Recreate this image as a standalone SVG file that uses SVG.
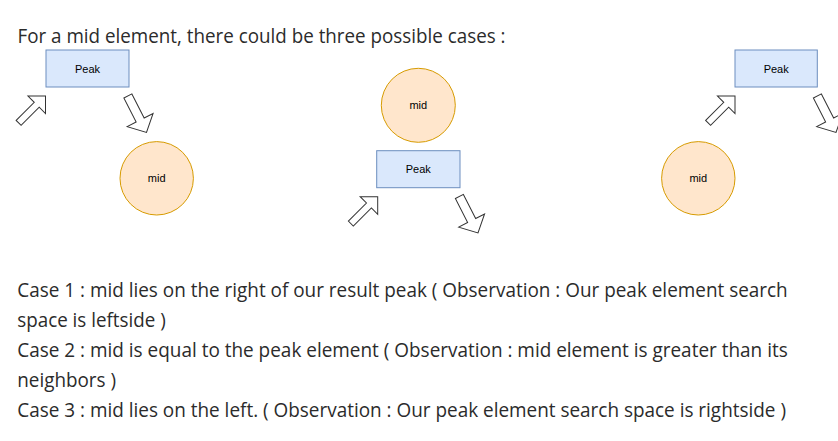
<svg xmlns="http://www.w3.org/2000/svg" xmlns:xlink="http://www.w3.org/1999/xlink" width="838" height="441" viewBox="0 0 838 441">
<style>
.bg{fill:#ffffff}
.peak{fill:#dae8fc;stroke:#6c8ebf;stroke-width:1}
.mid{fill:#ffe6cc;stroke:#d79b00;stroke-width:1}
.lbl{font-family:"Liberation Sans",Arial,sans-serif;font-size:11px;fill:#000000;text-anchor:middle;dominant-baseline:central}
.arr{fill:#ffffff;stroke:#333333;stroke-width:1;stroke-linejoin:miter}
.txt{font-family:"Open Sans","Noto Sans",sans-serif;font-size:19.5px;fill:#2b2b2b}
</style>
<defs>
<polygon id="upArrow" class="arr" points="-38,-3.5 -12.4,-3.5 -12.4,-12.4 0,0 -12.4,12.4 -12.4,3.5 -38,3.5"/>
<polygon id="downArrow" class="arr" points="-41,-4.5 -14,-4.5 -14,-14.5 0,0 -14,14.5 -14,4.5 -41,4.5"/>
</defs>
<rect class="bg" x="0" y="0" width="838" height="441"/>

<g id="title">
<text class="txt" x="17.5" y="42.5" textLength="488" lengthAdjust="spacingAndGlyphs">For a mid element, there could be three possible cases :</text>
</g>

<g id="case1-peak"><rect class="peak" x="46" y="50" width="83" height="37"/><text class="lbl" x="87.5" y="68.5">Peak</text></g>
<g id="case1-mid"><circle class="mid" cx="156.7" cy="178.3" r="36.7"/><text class="lbl" x="156.7" y="178.3">mid</text></g>

<g id="case2-mid"><circle class="mid" cx="418.3" cy="105.3" r="37"/><text class="lbl" x="418.3" y="105.3">mid</text></g>
<g id="case2-peak"><rect class="peak" x="376.7" y="150.7" width="83.3" height="37"/><text class="lbl" x="418.3" y="169.2">Peak</text></g>

<g id="case3-peak"><rect class="peak" x="735" y="50" width="82.3" height="37"/><text class="lbl" x="776.2" y="68.5">Peak</text></g>
<g id="case3-mid"><circle class="mid" cx="698.3" cy="178.3" r="36.7"/><text class="lbl" x="698.3" y="178.3">mid</text></g>

<g id="connectors">
<use xlink:href="#upArrow" href="#upArrow" transform="translate(45.5,96) rotate(-45)"/>
<use xlink:href="#downArrow" href="#downArrow" transform="translate(146.5,132.5) rotate(63)"/>
<use xlink:href="#upArrow" href="#upArrow" transform="translate(377.7,196.7) rotate(-45)"/>
<use xlink:href="#downArrow" href="#downArrow" transform="translate(478,233) rotate(63)"/>
<use xlink:href="#upArrow" href="#upArrow" transform="translate(735,96) rotate(-45)"/>
<use xlink:href="#downArrow" href="#downArrow" transform="translate(836,132.5) rotate(63)"/>
</g>

<g id="description">
<text class="txt" x="17.3" y="297.3" textLength="770.4" lengthAdjust="spacingAndGlyphs">Case 1 : mid lies on the right of our result peak ( Observation : Our peak element search</text>
<text class="txt" x="17.3" y="327" textLength="148.4" lengthAdjust="spacingAndGlyphs">space is leftside )</text>
<text class="txt" x="17.3" y="357.3" textLength="770.4" lengthAdjust="spacingAndGlyphs">Case 2 : mid is equal to the peak element ( Observation : mid element is greater than its</text>
<text class="txt" x="17.3" y="387.3" textLength="98.7" lengthAdjust="spacingAndGlyphs">neighbors )</text>
<text class="txt" x="17.3" y="417.3" textLength="768.7" lengthAdjust="spacingAndGlyphs">Case 3 : mid lies on the left. ( Observation : Our peak element search space is rightside )</text>
</g>
</svg>
